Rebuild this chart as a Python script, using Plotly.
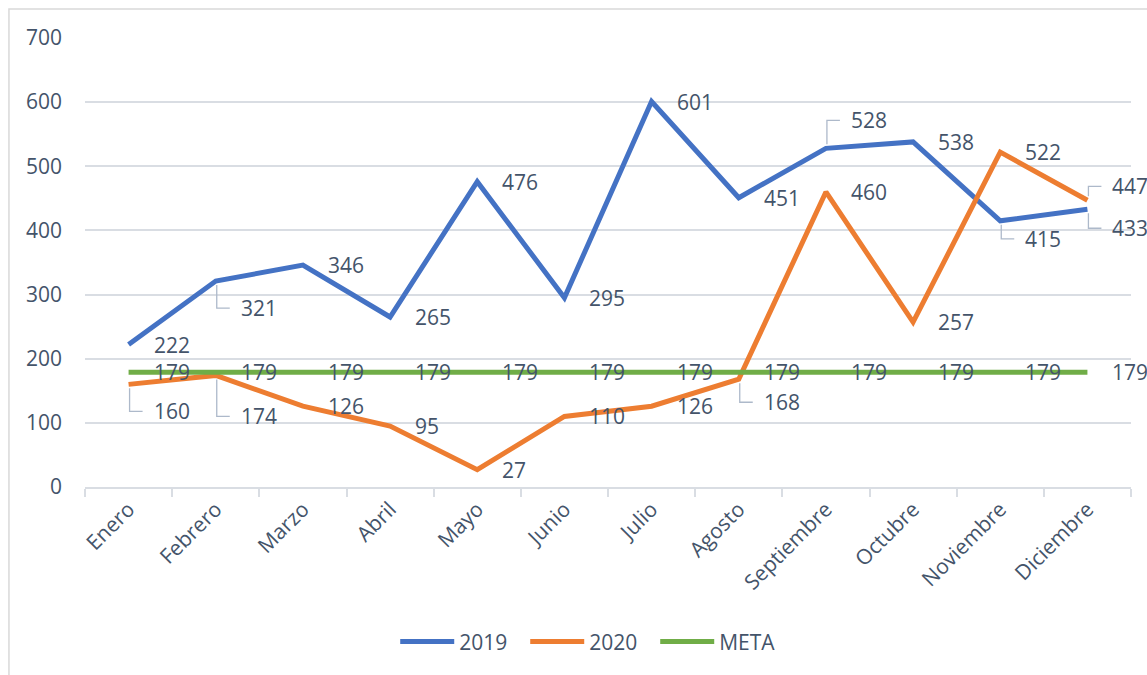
import plotly.graph_objects as go

months = ["Enero", "Febrero", "Marzo", "Abril", "Mayo", "Junio", "Julio",
          "Agosto", "Septiembre", "Octubre", "Noviembre", "Diciembre"]
v2019 = [222, 321, 346, 265, 476, 295, 601, 451, 528, 538, 415, 433]
v2020 = [160, 174, 126, 95, 27, 110, 126, 168, 460, 257, 522, 447]
meta = [179] * 12
y_ticks = [0, 100, 200, 300, 400, 500, 600, 700]

# label styling: vertical pixel offset (positive = down) and whether a leader line is drawn
off2019 = [0, 27, 0, 0, 0, 0, 0, 0, -28, 0, 18, 19]
lead2019 = [False, True, False, False, False, False, False, False, True, False, True, True]
off2020 = [27, 41, 0, 0, 0, 0, 0, 23, 0, 0, 0, -14]
lead2020 = [True, True, False, False, False, False, False, True, False, False, False, True]
offmeta = [0] * 12
leadmeta = [False] * 12

BLUE, ORANGE, GREEN = "#4472C4", "#ED7D31", "#70AD47"
TXT = "#44546A"
GRID = "#D9DDE3"
LEADER = "#ADB9CA"
FONT = "Open Sans"
FS = 21

fig = go.Figure()
for name, vals, col in [("2019", v2019, BLUE), ("2020", v2020, ORANGE), ("META", meta, GREEN)]:
    fig.add_trace(go.Scatter(x=months, y=vals, name=name, mode="lines",
                             line=dict(color=col, width=5), hoverinfo="x+y"))

annotations = []
shapes = []
for vals, offs, leads in [(v2019, off2019, lead2019), (v2020, off2020, lead2020), (meta, offmeta, leadmeta)]:
    for m, v, dy, ld in zip(months, vals, offs, leads):
        annotations.append(dict(x=m, y=v, xref="x", yref="y", text=str(v), showarrow=False,
                                xanchor="left", yanchor="middle", xshift=23, yshift=-dy,
                                font=dict(family=FONT, size=FS, color=TXT)))
        if ld:
            if dy > 0:
                path = f"M 1,-4 V {-dy} H 14"
            else:
                path = f"M 1,4 V {-dy} H 14"
            shapes.append(dict(type="path", xref="x", yref="y", xsizemode="pixel", ysizemode="pixel",
                               xanchor=m, yanchor=v, path=path,
                               line=dict(color=LEADER, width=1.3), layer="above"))

# chart outer border
shapes.append(dict(type="rect", xref="paper", yref="paper", x0=-0.0727, y0=-0.45, x1=1.03, y1=1.0646,
                   line=dict(color="#D9D9D9", width=1.5), layer="below"))

fig.update_layout(
    width=1147, height=675,
    margin=dict(l=85, r=16, t=38, b=188),
    paper_bgcolor="white", plot_bgcolor="white",
    font=dict(family=FONT, size=FS, color=TXT),
    showlegend=True,
    legend=dict(orientation="h", x=0.483, xanchor="center", y=-0.345, yanchor="middle",
                font=dict(family=FONT, size=FS, color=TXT), itemwidth=54,
                entrywidth=61, entrywidthmode="pixels"),
    annotations=annotations,
    shapes=shapes,
)
fig.update_xaxes(type="category", range=[-0.5, 11.5], tickangle=-45, showgrid=False,
                 showline=True, linecolor=GRID, linewidth=1.5,
                 ticks="outside", tickson="boundaries", ticklen=8, tickcolor=GRID, tickwidth=1.5,
                 tickfont=dict(family=FONT, size=FS, color=TXT))
fig.update_yaxes(range=[0, 700], tickvals=y_ticks, showgrid=True, gridcolor=GRID, gridwidth=1.5,
                 zeroline=False, showline=False, ticklabelstandoff=22,
                 tickfont=dict(family=FONT, size=FS, color=TXT))

fig.write_html("out.html", config={"displayModeBar": False},
               post_script="document.body.style.margin='0';document.body.style.overflow='hidden';")
